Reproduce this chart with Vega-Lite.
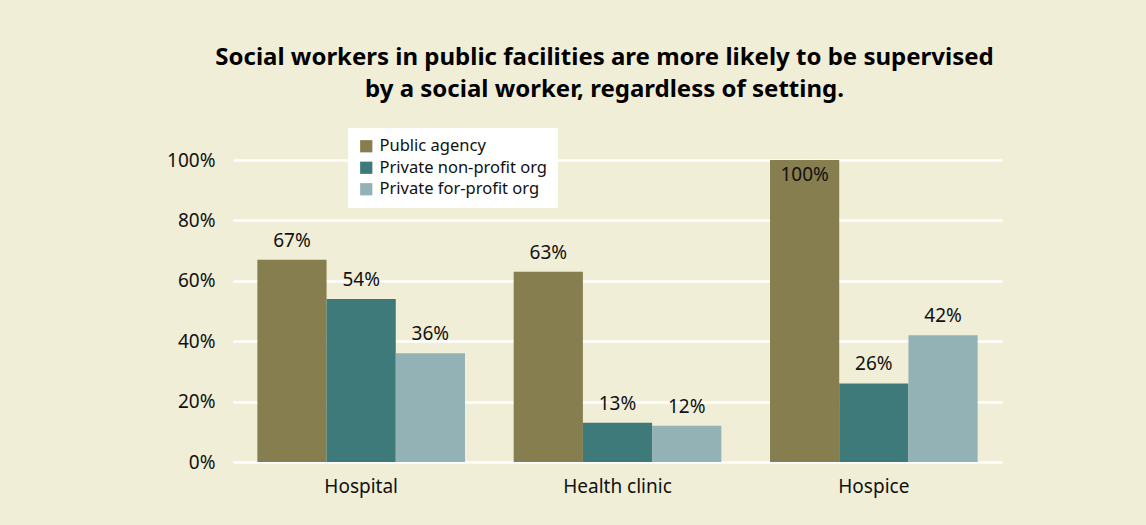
{
  "$schema": "https://vega.github.io/schema/vega-lite/v6.json",
  "autosize": {"type": "none"},
  "padding": {"left": 233, "top": 160, "right": 144, "bottom": 63},
  "width": 769,
  "height": 302,
  "background": "#f0eed6",
  "config": {"view": {"stroke": null}},
  "title": {
    "text": ["Social workers in public facilities are more likely to be supervised", "by a social worker, regardless of setting."],
    "fontSize": 24,
    "font": "Noto Sans",
    "fontWeight": "bold",
    "color": "#000000",
    "lineHeight": 32,
    "anchor": "middle",
    "frame": "group",
    "dx": -13,
    "offset": 26
  },
  "data": {
    "values": [
      {"setting": "Hospital", "type": "Public agency", "value": 0.67},
      {"setting": "Hospital", "type": "Private non-profit org", "value": 0.54},
      {"setting": "Hospital", "type": "Private for-profit org", "value": 0.36},
      {"setting": "Health clinic", "type": "Public agency", "value": 0.63},
      {"setting": "Health clinic", "type": "Private non-profit org", "value": 0.13},
      {"setting": "Health clinic", "type": "Private for-profit org", "value": 0.12},
      {"setting": "Hospice", "type": "Public agency", "value": 1.0},
      {"setting": "Hospice", "type": "Private non-profit org", "value": 0.26},
      {"setting": "Hospice", "type": "Private for-profit org", "value": 0.42}
    ]
  },
  "encoding": {
    "x": {
      "field": "setting",
      "type": "nominal",
      "sort": ["Hospital", "Health clinic", "Hospice"],
      "scale": {"paddingInner": 0.19, "paddingOuter": 0.095},
      "axis": {"title": null, "labelAngle": 0, "domain": false, "ticks": false, "labelFontSize": 19, "labelFont": "Noto Sans", "labelColor": "#111111", "labelPadding": 15}
    },
    "xOffset": {"field": "type", "type": "nominal", "sort": ["Public agency", "Private non-profit org", "Private for-profit org"], "scale": {"paddingInner": 0, "paddingOuter": 0}},
    "y": {
      "field": "value",
      "type": "quantitative",
      "scale": {"domain": [0, 1]},
      "axis": {"title": null, "values": [0, 0.2, 0.4, 0.6, 0.8, 1], "format": ".0%", "domain": false, "ticks": false, "grid": true, "gridColor": "#ffffff", "gridWidth": 2.5, "gridOpacity": 1, "labelFontSize": 19, "labelFont": "Noto Sans", "labelColor": "#111111", "labelPadding": 18}
    }
  },
  "layer": [
    {
      "mark": {"type": "bar"},
      "encoding": {
        "color": {
          "field": "type",
          "type": "nominal",
          "sort": ["Public agency", "Private non-profit org", "Private for-profit org"],
          "scale": {"domain": ["Public agency", "Private non-profit org", "Private for-profit org"], "range": ["#877e50", "#3e7a7a", "#93b2b5"]},
          "legend": {
            "title": null,
            "orient": "none",
            "legendX": 115,
            "legendY": -32,
            "fillColor": "#ffffff",
            "padding": 10,
            "symbolType": "square",
            "symbolSize": 150,
            "symbolStrokeWidth": 0,
            "symbolOpacity": 1,
            "labelFontSize": 16.5,
            "labelFont": "Noto Sans",
            "labelColor": "#111111",
            "labelLimit": 300,
            "rowPadding": 4.5,
            "labelOffset": 5
          }
        }
      }
    },
    {
      "transform": [{"filter": "datum.value < 1"}],
      "mark": {"type": "text", "baseline": "bottom", "dy": -9, "fontSize": 19, "font": "Noto Sans", "color": "#111111"},
      "encoding": {"text": {"field": "value", "type": "quantitative", "format": ".0%"}}
    },
    {
      "transform": [{"filter": "datum.value >= 1"}],
      "mark": {"type": "text", "baseline": "top", "dy": 6, "fontSize": 19, "font": "Noto Sans", "color": "#111111"},
      "encoding": {"text": {"field": "value", "type": "quantitative", "format": ".0%"}}
    }
  ]
}
